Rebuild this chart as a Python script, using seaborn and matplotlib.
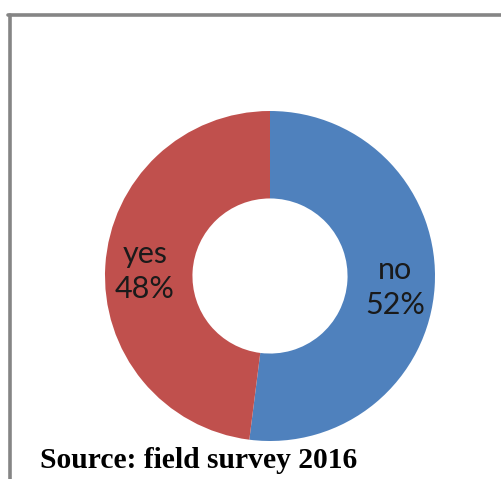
import numpy as np
import matplotlib
matplotlib.use("Agg")
import matplotlib.pyplot as plt
from matplotlib.lines import Line2D
import seaborn as sns

# Data
categories = ["no", "yes"]
shares = [52, 48]
colors = ["#4F81BD", "#C0504D"]
source_note = "Source: field survey 2016"

sns.set_style("white")
palette = sns.color_palette(colors)

fig = plt.figure(figsize=(5.02, 4.79), dpi=100)
ax = fig.add_axes([105 / 502, 38 / 479, 330 / 502, 330 / 479])

wedges, _ = ax.pie(shares, colors=palette, startangle=90, counterclock=False,
                   radius=1.0, wedgeprops=dict(width=0.53, linewidth=0))
ax.set_xlim(-1, 1)
ax.set_ylim(-1, 1)
ax.set_aspect("equal")
ax.axis("off")

# Labels inside the ring
for w, cat, val in zip(wedges, categories, shares):
    ang = np.deg2rad((w.theta1 + w.theta2) / 2)
    r = 0.76
    ax.text(r * np.cos(ang), r * np.sin(ang) - 0.02, f"{cat}\n{val}%",
            ha="center", va="center", fontsize=22, family="Lato",
            color="#1a1a1a", linespacing=1.3)

# Grey frame on top and left
fig.add_artist(Line2D([8 / 502, 1], [1 - 15 / 479] * 2, color="#858585",
                      lw=2.6, transform=fig.transFigure))
fig.add_artist(Line2D([9.5 / 502] * 2, [0, 1 - 15 / 479], color="#858585",
                      lw=2.6, transform=fig.transFigure))

fig.text(40 / 502, 1 - 468 / 479, source_note, ha="left", va="baseline",
         fontsize=21.3, fontweight="bold", family="Liberation Serif", color="black")

fig.savefig("out.png", dpi=100)
